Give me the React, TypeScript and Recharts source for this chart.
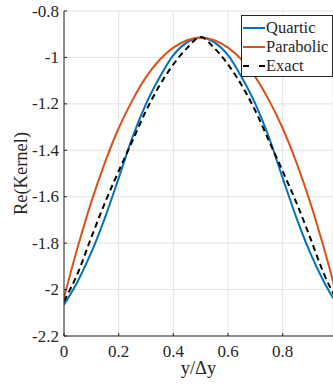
import React from 'react';
import { LineChart, Line, XAxis, YAxis, CartesianGrid, Legend } from 'recharts';

// values
const xs = [0, 0.05, 0.1, 0.15, 0.2, 0.25, 0.3, 0.35, 0.4, 0.45, 0.5, 0.55, 0.6, 0.65, 0.7, 0.75, 0.8, 0.85, 0.9, 0.95, 1];
const quartic = [-2.065, -1.965, -1.84, -1.69, -1.52, -1.345, -1.2, -1.085, -0.99, -0.935, -0.914, -0.935, -0.99, -1.085, -1.2, -1.345, -1.52, -1.69, -1.84, -1.965, -2.065];
const parabolic = [-2.035, -1.818, -1.622, -1.452, -1.305, -1.185, -1.085, -1.01, -0.958, -0.926, -0.914, -0.926, -0.958, -1.01, -1.085, -1.185, -1.305, -1.452, -1.622, -1.818, -2.035];
const exact = [-2.05, -1.93, -1.775, -1.625, -1.49, -1.36, -1.23, -1.12, -1.03, -0.96, -0.912, -0.96, -1.03, -1.12, -1.23, -1.36, -1.49, -1.625, -1.775, -1.93, -2.05];
const xTicks = [0, 0.2, 0.4, 0.6, 0.8];
const yTicks = [-2.2, -2, -1.8, -1.6, -1.4, -1.2, -1, -0.8];

const data = xs.map((x, i) => ({ x, quartic: quartic[i], parabolic: parabolic[i], exact: exact[i] }));

const font = 'Liberation Serif';
const ink = '#262626';
const textStyle = { fontFamily: font, fill: ink };

const series = [
  { key: 'quartic', name: 'Quartic', color: '#0072BD', dash: undefined, legendDash: undefined },
  { key: 'parabolic', name: 'Parabolic', color: '#D95319', dash: undefined, legendDash: undefined },
  { key: 'exact', name: 'Exact', color: '#000000', dash: '6 4', legendDash: '6 10' },
];

const renderLegend = () => (
  <div style={{ border: `1px solid ${ink}`, background: '#fff', width: 90, height: 58, paddingTop: 2, boxSizing: 'content-box' }}>
    {series.map((s) => (
      <div key={s.key} style={{ display: 'flex', alignItems: 'center', height: 19 }}>
        <svg width={24} height={4} style={{ display: 'block' }}>
          <line x1={1} x2={23} y1={2} y2={2} stroke={s.color} strokeWidth={2} strokeDasharray={s.legendDash} />
        </svg>
        <span style={{ fontFamily: font, fontSize: 16.5, color: ink, lineHeight: '19px' }}>{s.name}</span>
      </div>
    ))}
  </div>
);

// tick text sits relative to the inward tick end (tickSize -3)
const XTick = (props: any) => {
  const { x, y, payload } = props;
  return (
    <text x={x} y={y + 24} textAnchor="middle" fontSize={17} style={textStyle}>
      {String(payload.value)}
    </text>
  );
};

const YTick = (props: any) => {
  const { x, y, payload } = props;
  return (
    <text x={x - 8} y={y + 5.5} textAnchor="end" fontSize={17} style={textStyle}>
      {String(payload.value)}
    </text>
  );
};

const XLabel = (props: any) => {
  const vb = props.viewBox || {};
  return (
    <text x={vb.x + vb.width / 2} y={vb.y + 38} textAnchor="middle" fontSize={18.5} style={textStyle}>
      y/Δy
    </text>
  );
};

const YLabel = (props: any) => {
  const vb = props.viewBox || {};
  const cx = 21;
  const cy = vb.y + vb.height / 2;
  return (
    <text x={cx} y={cy} transform={`rotate(-90 ${cx} ${cy})`} textAnchor="middle" dominantBaseline="central" fontSize={18.5} style={textStyle}>
      Re(Kernel)
    </text>
  );
};

const App = () => {
  return (
    <div style={{ position: 'absolute', left: 0, top: 0, background: '#fff' }}>
      <LineChart width={333} height={387} data={data} margin={{ top: 11, right: 0, bottom: 0, left: 0 }}>
        <CartesianGrid stroke="#e3e3e3" strokeWidth={1} />
        <XAxis
          dataKey="x"
          type="number"
          domain={[0, 0.984]}
          allowDataOverflow
          ticks={xTicks}
          height={51}
          tickSize={-3}
          tickMargin={0}
          stroke={ink}
          tick={<XTick />}
          label={<XLabel />}
        />
        <YAxis
          type="number"
          domain={[-2.2, -0.8]}
          ticks={yTicks}
          width={64}
          tickSize={-3}
          tickMargin={0}
          stroke={ink}
          tick={<YTick />}
          label={<YLabel />}
        />
        <Legend
          layout="vertical"
          align="center"
          verticalAlign="middle"
          content={renderLegend}
          wrapperStyle={{ top: 15, left: 241, width: 92 }}
        />
        {series.map((s) => (
          <Line
            key={s.key}
            type="monotone"
            dataKey={s.key}
            name={s.name}
            stroke={s.color}
            strokeWidth={2}
            strokeDasharray={s.dash}
            dot={false}
            activeDot={false}
            isAnimationActive={false}
          />
        ))}
      </LineChart>
    </div>
  );
};

export default App;
